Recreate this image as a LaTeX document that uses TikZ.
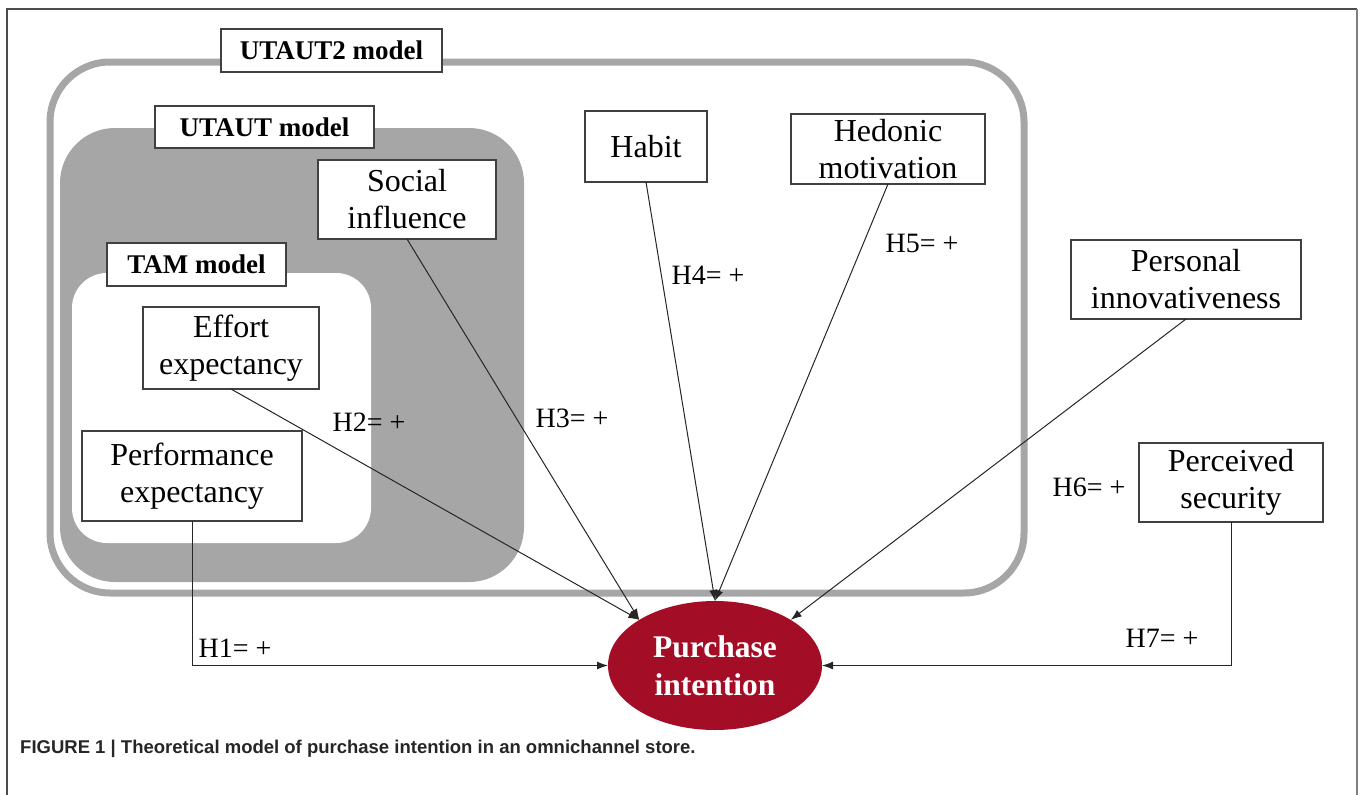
\documentclass[tikz,border=0pt]{standalone}
\usepackage{fontspec}
\setmainfont{Liberation Serif}
\newfontfamily\captionsans{Liberation Sans}
\usetikzlibrary{shapes.geometric,arrows.meta}
\definecolor{modelgray}{RGB}{166,166,166}
\definecolor{intentred}{RGB}{163,13,37}
\tikzset{
  construct/.style = {draw=black!75,line width=1.1pt,fill=white,align=center,
    inner sep=0pt,outer sep=0pt,font=\fontsize{32}{37}\selectfont},
  modellabel/.style = {draw=black!75,line width=1.1pt,fill=white,
    inner sep=0pt,outer sep=0pt,font=\fontsize{27}{30}\selectfont\bfseries},
  hyp/.style = {inner sep=0pt,font=\fontsize{28}{30}\selectfont},
  link/.style = {->,line width=1pt,black!85}
}
\tikzset{>={Latex[length=11pt,width=8pt]}}

\begin{document}
\begin{tikzpicture}[x=1pt,y=-1pt]
  \useasboundingbox (0,0) rectangle (1360,795);
  % frame
  \draw[black!70,line width=1.5pt] (7,795) -- (7,9) -- (1357,9);
  \draw[gray,line width=2pt] (1357,9) -- (1357,795);
  % models
  \draw[modelgray,line width=7pt,rounded corners=60pt] (50,62) rectangle (1024,593); % UTAUT2
  \fill[modelgray,rounded corners=55pt] (60,128) rectangle (524,582); % UTAUT
  \fill[white,rounded corners=35pt] (72,273) rectangle (371,543); % TAM
  \node[modellabel,minimum width=221pt,minimum height=43pt] (utauttwo) at (331.5,50.5) {UTAUT2 model};
  \node[modellabel,minimum width=219pt,minimum height=42pt] (utaut) at (264.5,127) {UTAUT model};
  \node[modellabel,minimum width=179pt,minimum height=43pt] (tam) at (196.5,264.5) {TAM model};
  % constructs
  \node[construct,minimum width=178pt,minimum height=79pt] (social) at (407,199.5) {Social\\influence};
  \node[construct,minimum width=122pt,minimum height=71pt] (habit) at (646,146.5) {Habit};
  \node[construct,minimum width=194pt,minimum height=70pt] (hedonic) at (888,149) {Hedonic\\motivation};
  \node[construct,minimum width=230pt,minimum height=79pt] (innov) at (1186,279.5) {Personal\\innovativeness};
  \node[construct,minimum width=176pt,minimum height=82pt] (effort) at (231,348) {Effort\\expectancy};
  \node[construct,minimum width=220pt,minimum height=90pt] (perf) at (192,476) {Performance\\expectancy};
  \node[construct,minimum width=184pt,minimum height=79pt] (security) at (1231,482.5) {Perceived\\security};
  % purchase intention
  \node[ellipse,fill=intentred,text=white,align=center,inner sep=0pt,outer sep=0pt,
    minimum width=214pt,minimum height=129pt,font=\fontsize{31.5}{38}\selectfont\bfseries]
    (pi) at (715,665.5) {Purchase\\intention};
  % hypotheses
  \draw[link] (perf.south) |- (pi.west);
  \draw[link] (effort.south) -- (pi.north west);
  \draw[link] (social.south) -- (pi.north west);
  \draw[link] (habit.south) -- (pi.north);
  \draw[link] (hedonic.south) -- (pi.north);
  \draw[link] (innov.south) -- (pi.north east);
  \draw[link] (security.south) |- (pi.east);
  \node[hyp] (hone) at (235,648) {H1= +};
  \node[hyp] (htwo) at (369,422) {H2= +};
  \node[hyp] (hthree) at (572,418) {H3= +};
  \node[hyp] (hfour) at (708,275) {H4= +};
  \node[hyp] (hfive) at (922,243) {H5= +};
  \node[hyp] (hsix) at (1089,487) {H6= +};
  \node[hyp] (hseven) at (1162,638) {H7= +};
  % caption
  \node[anchor=base west,inner sep=0pt,text=black!85,font=\captionsans\bfseries\fontsize{18.5}{22}\selectfont]
    (caption) at (20,753) {FIGURE 1 | Theoretical model of purchase intention in an omnichannel store.};
\end{tikzpicture}
\end{document}
